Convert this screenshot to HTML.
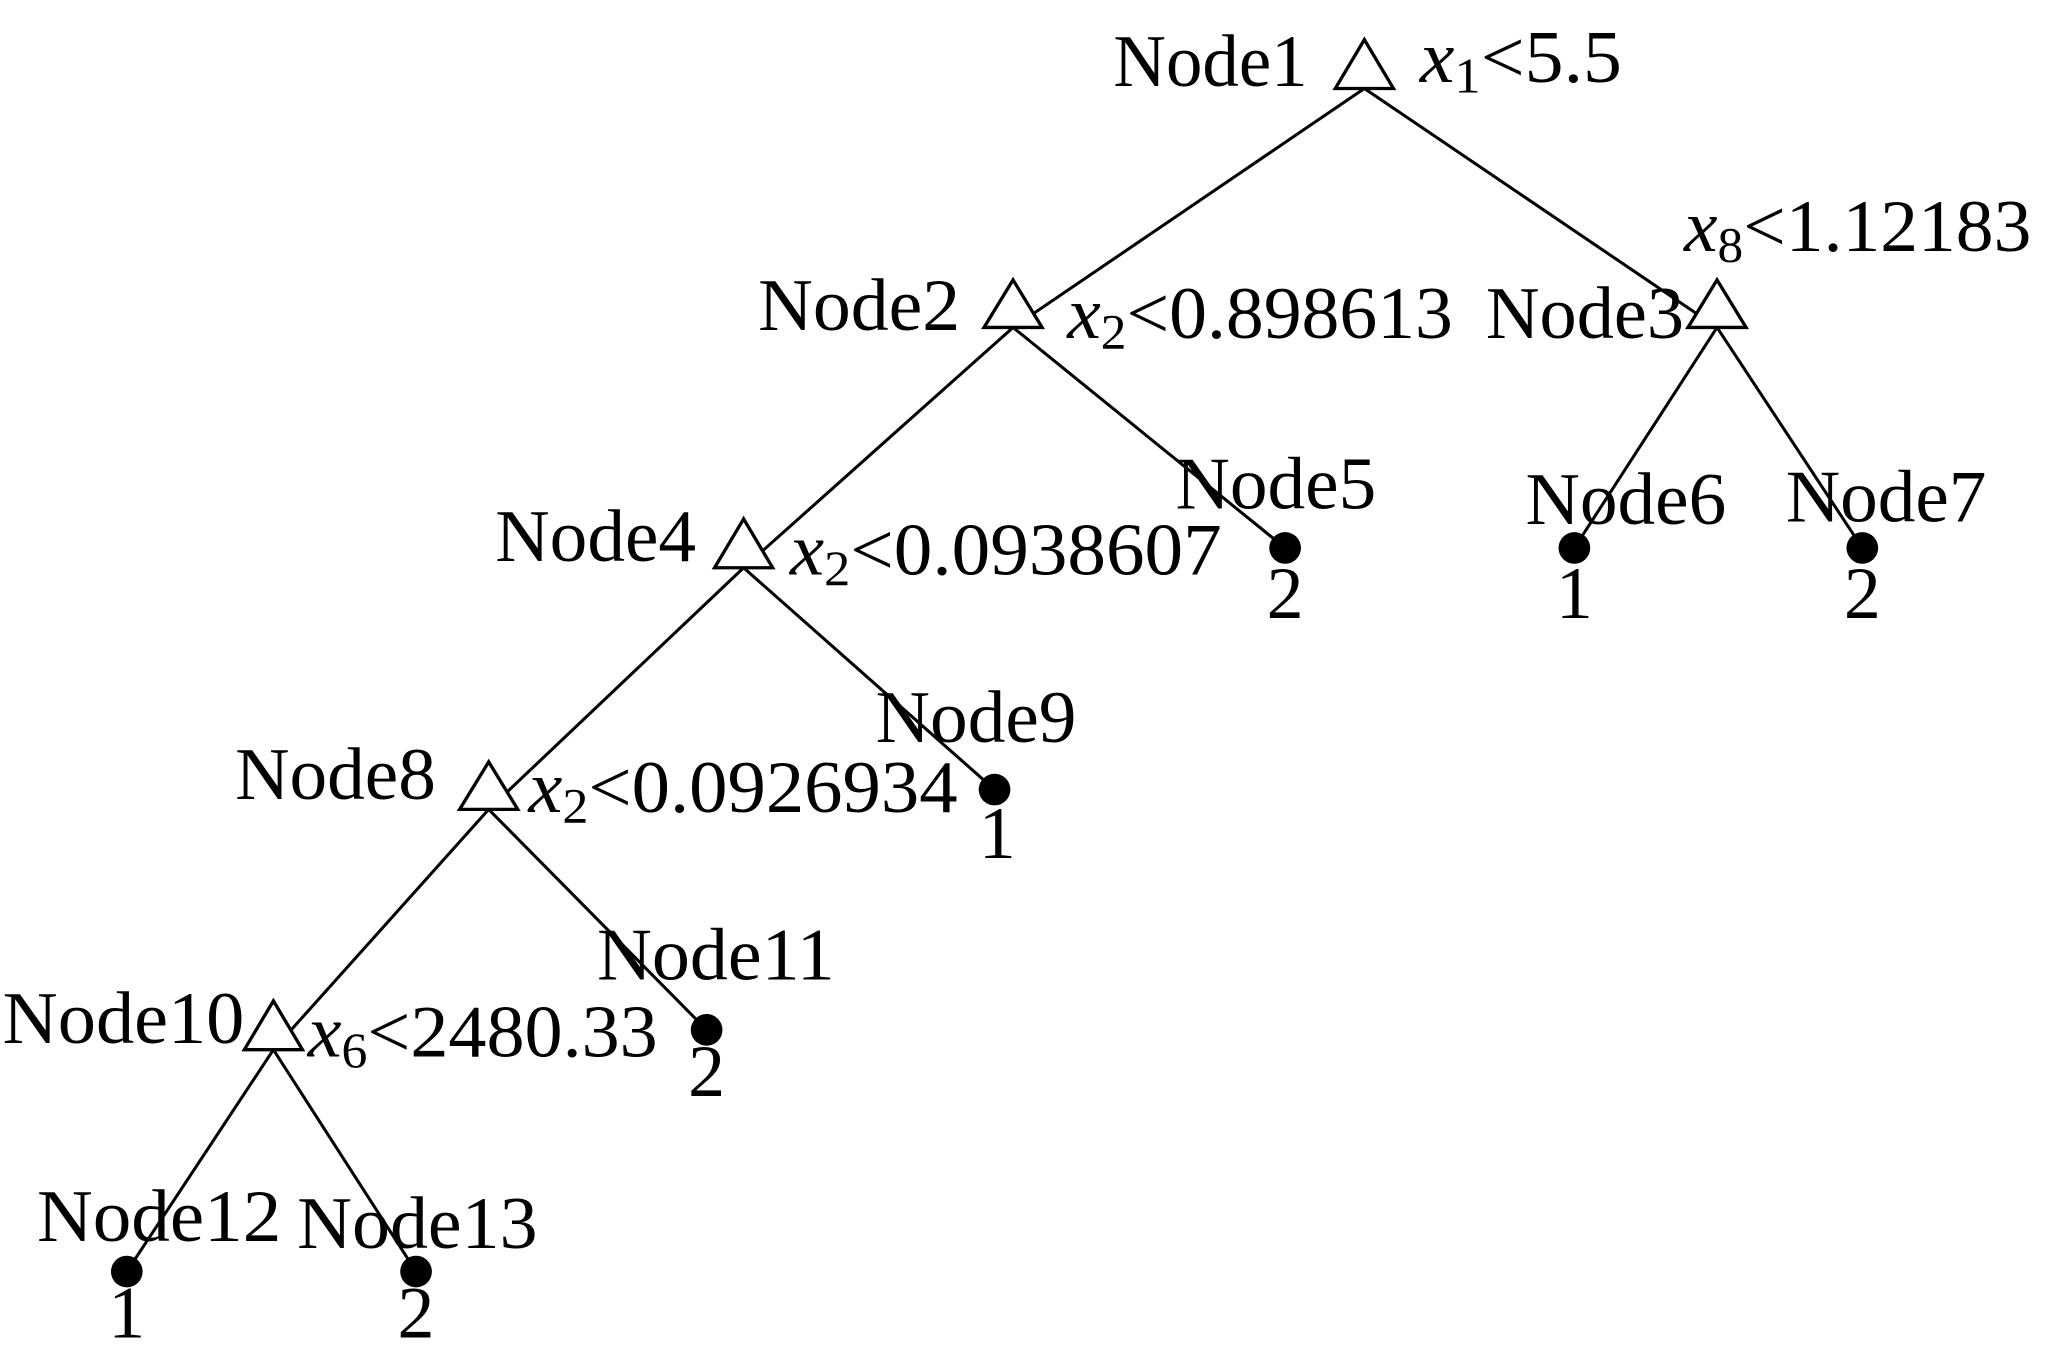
<!DOCTYPE html>
<html><head><meta charset="utf-8"><style>html,body{margin:0;padding:0;background:#fff}svg{display:block}</style></head>
<body>
<svg width="2071" height="1360" viewBox="0 0 1568 1030" preserveAspectRatio="none" xmlns="http://www.w3.org/2000/svg" font-family="Liberation Serif, serif" font-size="56" fill="#000">
<g stroke="#000" stroke-width="2.3" fill="none">
<line x1="1033" y1="67" x2="767" y2="248"/>
<line x1="1033" y1="67" x2="1300" y2="248"/>
<line x1="767" y1="248" x2="563" y2="430"/>
<line x1="767" y1="248" x2="973" y2="415"/>
<line x1="1300" y1="248" x2="1192" y2="415"/>
<line x1="1300" y1="248" x2="1410" y2="415"/>
<line x1="563" y1="430" x2="370" y2="613"/>
<line x1="563" y1="430" x2="753" y2="598"/>
<line x1="370" y1="613" x2="207" y2="795"/>
<line x1="370" y1="613" x2="535" y2="780"/>
<line x1="207" y1="795" x2="96" y2="963"/>
<line x1="207" y1="795" x2="315" y2="963"/>
</g>
<g stroke="#000" stroke-width="2.5" fill="#fff">
<polygon points="1033,30 1011,67 1055,67"/>
<polygon points="767,212 745,248 789,248"/>
<polygon points="1300,212 1278,248 1322,248"/>
<polygon points="563,393 541,430 585,430"/>
<polygon points="370,577 348,613 392,613"/>
<polygon points="207,758 185,795 229,795"/>
</g>
<g>
<circle cx="973" cy="415" r="12"/><circle cx="1192" cy="415" r="12"/><circle cx="1410" cy="415" r="12"/>
<circle cx="753" cy="598" r="12"/><circle cx="535" cy="780" r="12"/>
<circle cx="96" cy="963" r="12"/><circle cx="315" cy="963" r="12"/>
</g>
<text x="843" y="65" textLength="147" lengthAdjust="spacingAndGlyphs">Node1</text>
<text x="1075" y="62" textLength="153" lengthAdjust="spacingAndGlyphs"><tspan font-style="italic">x</tspan><tspan font-size="38" dy="8">1</tspan><tspan dy="-8">&lt;5.5</tspan></text>
<text x="574" y="250" textLength="153" lengthAdjust="spacingAndGlyphs">Node2</text>
<text x="808" y="256" textLength="292" lengthAdjust="spacingAndGlyphs"><tspan font-style="italic">x</tspan><tspan font-size="38" dy="8">2</tspan><tspan dy="-8">&lt;0.898613</tspan></text>
<text x="1125" y="256" textLength="150" lengthAdjust="spacingAndGlyphs">Node3</text>
<text x="1275" y="190" textLength="263" lengthAdjust="spacingAndGlyphs"><tspan font-style="italic">x</tspan><tspan font-size="38" dy="8">8</tspan><tspan dy="-8">&lt;1.12183</tspan></text>
<text x="375" y="425" textLength="152" lengthAdjust="spacingAndGlyphs">Node4</text>
<text x="598" y="435" textLength="327" lengthAdjust="spacingAndGlyphs"><tspan font-style="italic">x</tspan><tspan font-size="38" dy="8">2</tspan><tspan dy="-8">&lt;0.0938607</tspan></text>
<text x="890" y="385" textLength="152" lengthAdjust="spacingAndGlyphs">Node5</text>
<text x="973" y="468" text-anchor="middle">2</text>
<text x="1155" y="397" textLength="152" lengthAdjust="spacingAndGlyphs">Node6</text>
<text x="1192" y="468" text-anchor="middle">1</text>
<text x="1352" y="395" textLength="152" lengthAdjust="spacingAndGlyphs">Node7</text>
<text x="1410" y="468" text-anchor="middle">2</text>
<text x="178" y="605" textLength="152" lengthAdjust="spacingAndGlyphs">Node8</text>
<text x="400" y="615" textLength="325" lengthAdjust="spacingAndGlyphs"><tspan font-style="italic">x</tspan><tspan font-size="38" dy="8">2</tspan><tspan dy="-8">&lt;0.0926934</tspan></text>
<text x="663" y="562" textLength="152" lengthAdjust="spacingAndGlyphs">Node9</text>
<text x="755" y="650" text-anchor="middle">1</text>
<text x="2" y="790" textLength="183" lengthAdjust="spacingAndGlyphs">Node10</text>
<text x="233" y="800" textLength="265" lengthAdjust="spacingAndGlyphs"><tspan font-style="italic">x</tspan><tspan font-size="38" dy="8">6</tspan><tspan dy="-8">&lt;2480.33</tspan></text>
<text x="452" y="742" textLength="180" lengthAdjust="spacingAndGlyphs">Node11</text>
<text x="535" y="830" text-anchor="middle">2</text>
<text x="28" y="940" textLength="185" lengthAdjust="spacingAndGlyphs">Node12</text>
<text x="96" y="1013" text-anchor="middle">1</text>
<text x="225" y="945" textLength="182" lengthAdjust="spacingAndGlyphs">Node13</text>
<text x="315" y="1013" text-anchor="middle">2</text>
</svg>
</body></html>
